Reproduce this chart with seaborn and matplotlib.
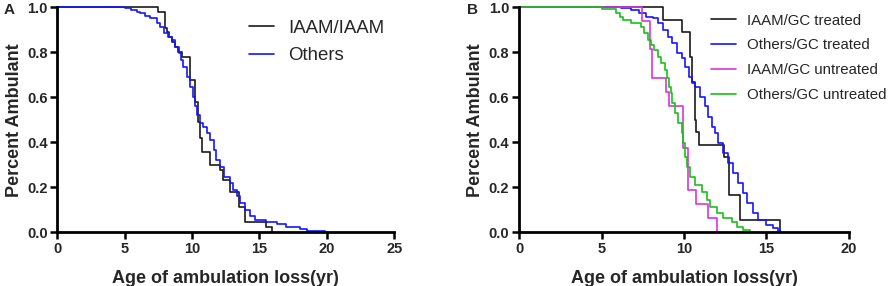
import numpy as np
import pandas as pd
import matplotlib
matplotlib.use("Agg")
import matplotlib.pyplot as plt
import seaborn as sns

sns.set_theme(style="ticks")
plt.rcParams['font.family'] = ['Liberation Sans', 'DejaVu Sans']

# ---- Panel A data (step survival curves) ----
a_iaam_t = [0, 7.45, 8.0, 8.15, 8.3, 8.5, 8.7, 8.95, 9.25, 9.85, 10.25, 10.45, 10.6, 10.75, 11.35, 12.05, 12.3, 12.8, 13.45, 13.9, 15.5, 15.95]
a_iaam_s = [1.0, 0.978, 0.91, 0.89, 0.867, 0.845, 0.822, 0.8, 0.778, 0.678, 0.578, 0.49, 0.42, 0.356, 0.3, 0.278, 0.233, 0.178, 0.111, 0.044, 0.022, 0.0]

a_oth_t = [0, 5.0, 5.5, 5.9, 6.1, 6.5, 6.9, 7.4, 7.6, 7.9, 8.2, 8.5, 8.7, 9.0, 9.2, 9.35, 9.6, 9.85, 10.05, 10.2, 10.4, 10.55, 10.8, 11.1, 11.3, 11.6, 11.8, 12.1, 12.4, 12.8, 13.05, 13.35, 13.55, 13.9, 14.3, 14.7, 15.5, 16.3, 17.0, 18.0, 18.5, 19.85]
a_oth_s = [1.0, 0.996, 0.988, 0.981, 0.973, 0.961, 0.951, 0.929, 0.914, 0.884, 0.87, 0.855, 0.825, 0.796, 0.766, 0.736, 0.692, 0.647, 0.603, 0.559, 0.521, 0.484, 0.47, 0.44, 0.41, 0.366, 0.321, 0.292, 0.247, 0.218, 0.188, 0.159, 0.129, 0.099, 0.07, 0.055, 0.047, 0.037, 0.025, 0.015, 0.007, 0.0]

# ---- Panel B data ----
b_iaam_tr_t = [0, 8.75, 9.85, 10.35, 10.5, 10.65, 10.75, 10.9, 12.45, 12.7, 13.4, 15.8]
b_iaam_tr_s = [1.0, 0.944, 0.889, 0.778, 0.667, 0.5, 0.444, 0.389, 0.333, 0.167, 0.056, 0.0]

b_oth_tr_t = [0, 6.2, 6.8, 7.3, 7.7, 8.1, 8.4, 8.75, 9.05, 9.25, 9.55, 9.86, 10.06, 10.3, 10.46, 10.67, 10.97, 11.27, 11.47, 11.68, 11.88, 12.08, 12.38, 12.69, 12.99, 13.29, 13.56, 13.8, 14.2, 14.5, 15.0, 15.4, 15.7, 15.8]
b_oth_tr_s = [1.0, 0.995, 0.988, 0.973, 0.959, 0.951, 0.929, 0.899, 0.87, 0.84, 0.796, 0.773, 0.736, 0.692, 0.662, 0.647, 0.603, 0.559, 0.514, 0.47, 0.44, 0.396, 0.351, 0.307, 0.262, 0.218, 0.173, 0.129, 0.084, 0.055, 0.033, 0.018, 0.006, 0.0]

b_iaam_un_t = [0, 7.45, 7.95, 8.05, 8.9, 9.1, 9.95, 10.25, 10.75, 11.45, 12.0]
b_iaam_un_s = [1.0, 0.9375, 0.8125, 0.6875, 0.625, 0.5625, 0.375, 0.1875, 0.125, 0.0625, 0.0]

b_oth_un_t = [0, 5.0, 5.9, 6.1, 6.3, 6.8, 7.4, 7.6, 7.8, 8.0, 8.2, 8.4, 8.6, 8.85, 8.95, 9.1, 9.2, 9.3, 9.45, 9.65, 9.86, 9.96, 10.06, 10.2, 10.36, 10.67, 11.07, 11.37, 11.58, 11.98, 12.38, 12.89, 13.19, 13.6, 14.0]
b_oth_un_s = [1.0, 0.991, 0.973, 0.959, 0.944, 0.929, 0.914, 0.884, 0.855, 0.833, 0.81, 0.781, 0.751, 0.721, 0.684, 0.647, 0.618, 0.573, 0.529, 0.484, 0.44, 0.396, 0.336, 0.292, 0.247, 0.21, 0.181, 0.144, 0.114, 0.084, 0.062, 0.047, 0.025, 0.01, 0.0]

labels_a = ["IAAM/IAAM", "Others"]
labels_b = ["IAAM/GC treated", "Others/GC treated", "IAAM/GC untreated", "Others/GC untreated"]
colors_a = ["#1a1a1a", "#1515ff"]
colors_b = ["#1a1a1a", "#1515ff", "#dd33dd", "#19c019"]

fig = plt.figure(figsize=(8.93, 2.86), dpi=100)
axA = fig.add_axes([0.0642, 0.188, 0.3773, 0.7865])
axB = fig.add_axes([0.5812, 0.188, 0.3695, 0.7865])

def style(ax, xmax, xticks):
    ax.set_xlim(0, xmax)
    ax.set_ylim(0, 1.0)
    ax.set_xticks(xticks)
    ax.set_yticks([0, 0.2, 0.4, 0.6, 0.8, 1.0])
    ax.set_yticklabels(["0.0", "0.2", "0.4", "0.6", "0.8", "1.0"])
    for s in ["top", "right"]:
        ax.spines[s].set_visible(False)
    for s in ["left", "bottom"]:
        ax.spines[s].set_linewidth(2.0)
        ax.spines[s].set_color("black")
    ax.tick_params(axis="both", direction="out", length=5, width=1.8, color="black",
                   labelsize=10.5, pad=2)
    for lab in ax.get_xticklabels() + ax.get_yticklabels():
        lab.set_fontweight("bold")
    ax.set_xlabel("Age of ambulation loss(yr)", fontsize=13, fontweight="bold", labelpad=10)
    ax.set_ylabel("Percent Ambulant", fontsize=13, fontweight="bold", labelpad=3)
    ax.set_facecolor("white")

def draw(ax, t, s, color, label):
    df = pd.DataFrame({"t": t, "s": s})
    sns.lineplot(data=df, x="t", y="s", ax=ax, color=color, label=label,
                 drawstyle="steps-post", linewidth=1.2, clip_on=False,
                 estimator=None, sort=False)

draw(axA, a_iaam_t, a_iaam_s, colors_a[0], labels_a[0])
draw(axA, a_oth_t, a_oth_s, colors_a[1], labels_a[1])
style(axA, 25, [0, 5, 10, 15, 20, 25])
axA.legend(loc="upper left", bbox_to_anchor=(0.54, 0.985), frameon=False,
           fontsize=13.4, handlelength=1.35, handletextpad=0.8, labelspacing=0.55,
           borderpad=0)

draw(axB, b_iaam_tr_t, b_iaam_tr_s, colors_b[0], labels_b[0])
draw(axB, b_oth_tr_t, b_oth_tr_s, colors_b[1], labels_b[1])
draw(axB, b_iaam_un_t, b_iaam_un_s, colors_b[2], labels_b[2])
draw(axB, b_oth_un_t, b_oth_un_s, colors_b[3], labels_b[3])
style(axB, 20, [0, 5, 10, 15, 20])
axB.legend(loc="upper left", bbox_to_anchor=(0.56, 1.005), frameon=False,
           fontsize=10.8, handlelength=1.68, handletextpad=0.67, labelspacing=0.72,
           borderpad=0)

fig.text(0.004, 0.99, "A", fontsize=11, fontweight="bold", va="top", ha="left")
fig.text(0.523, 0.99, "B", fontsize=11, fontweight="bold", va="top", ha="left")

fig.savefig("out.png", dpi=100, facecolor="white")
